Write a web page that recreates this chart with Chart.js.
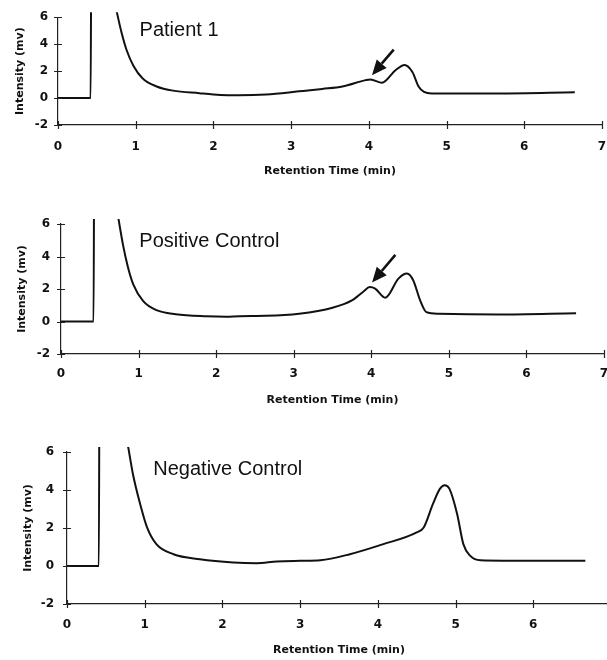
<!DOCTYPE html>
<html>
<head>
<meta charset="utf-8">
<script src="https://cdn.jsdelivr.net/npm/chart.js@4"></script>
<style>
  body { margin: 0; width: 607px; height: 660px; overflow: hidden; background: #fff; position: relative; }
  canvas { position: absolute; left: 0; }
</style>
</head>
<body>
<canvas id="chart1" width="622" height="178" style="top:0px"></canvas>
<canvas id="chart2" width="624" height="221" style="top:186px"></canvas>
<canvas id="chart3" width="631" height="247" style="top:410px"></canvas>
<script>
// Retention time (min) and intensity (mv)
// (values above 6 are off the scale, the injection spike)
const patientTime = [0, 0.42, 0.43, 0.64, 0.7, 0.76, 0.82, 0.88, 0.97, 1.09, 1.27, 1.48, 1.82, 2.0, 2.33, 2.68, 3.1, 3.4, 3.66, 3.96, 4.02, 4.17, 4.34, 4.46, 4.56, 4.64, 4.71, 4.81, 5.67, 6.65];
const patientSignal = [0, 0, 14, 14, 8.0, 6.3, 4.8, 3.6, 2.4, 1.45, 0.86, 0.55, 0.36, 0.27, 0.2, 0.26, 0.5, 0.68, 0.86, 1.33, 1.38, 1.14, 2.05, 2.45, 1.93, 0.86, 0.45, 0.34, 0.34, 0.43];

const positiveTime = [0, 0.42, 0.43, 0.62, 0.68, 0.74, 0.8, 0.86, 0.93, 1.06, 1.23, 1.48, 1.87, 2.13, 2.3, 2.64, 3.07, 3.5, 3.75, 3.9, 3.98, 4.05, 4.18, 4.35, 4.46, 4.54, 4.63, 4.71, 4.87, 5.64, 6.64];
const positiveSignal = [0, 0, 14, 14, 8.0, 6.35, 4.7, 3.4, 2.3, 1.25, 0.7, 0.45, 0.32, 0.29, 0.33, 0.35, 0.48, 0.85, 1.3, 1.85, 2.12, 2.02, 1.46, 2.64, 2.95, 2.54, 1.3, 0.58, 0.48, 0.43, 0.51];

const negativeTime = [0, 0.41, 0.42, 0.66, 0.72, 0.79, 0.85, 0.94, 1.03, 1.15, 1.37, 1.71, 2.14, 2.44, 2.7, 3.0, 3.26, 3.64, 4.07, 4.5, 4.59, 4.71, 4.8, 4.86, 4.92, 5.02, 5.1, 5.19, 5.32, 6.0, 6.67];
const negativeSignal = [0, 0, 14, 14, 7.8, 6.2, 4.8, 3.28, 2.03, 1.15, 0.62, 0.36, 0.19, 0.15, 0.24, 0.27, 0.3, 0.62, 1.15, 1.77, 2.03, 3.28, 4.07, 4.25, 4.07, 2.74, 1.15, 0.53, 0.3, 0.27, 0.27];

const yTicks = [-2, 0, 2, 4, 6];
const xTicks = [0, 1, 2, 3, 4, 5, 6, 7];

const tickFont = { family: "'DejaVu Sans', Verdana, sans-serif", size: 12, weight: "bold" };
const titleFont = { family: "'DejaVu Sans', Verdana, sans-serif", size: 11, weight: "bold" };

// tick marks crossing the axes, panel name and arrow
const decorPlugin = {
  id: "decor",
  afterDraw(chart, args, opts) {
    const ctx = chart.ctx;
    const xs = chart.scales.x;
    const ys = chart.scales.y;
    const area = chart.chartArea;
    ctx.save();
    ctx.strokeStyle = "#222";
    ctx.lineWidth = 1.2;
    ctx.beginPath();
    xs.ticks.forEach((t) => {
      const px = Math.round(xs.getPixelForValue(t.value)) + 0.5;
      ctx.moveTo(px, area.bottom - 4);
      ctx.lineTo(px, area.bottom + 4);
    });
    ys.ticks.forEach((t) => {
      const py = Math.round(ys.getPixelForValue(t.value)) + 0.5;
      ctx.moveTo(area.left - 4, py);
      ctx.lineTo(area.left + 4, py);
    });
    ctx.stroke();

    ctx.fillStyle = "#111";
    ctx.font = "20px 'Liberation Sans', Arial, sans-serif";
    ctx.textAlign = "left";
    ctx.textBaseline = "middle";
    ctx.fillText(opts.label, xs.getPixelForValue(opts.labelAt[0]), ys.getPixelForValue(opts.labelAt[1]));

    if (opts.arrow) {
      const x1 = xs.getPixelForValue(opts.arrow[0]);
      const y1 = ys.getPixelForValue(opts.arrow[1]);
      const x2 = xs.getPixelForValue(opts.arrow[2]);
      const y2 = ys.getPixelForValue(opts.arrow[3]);
      const ang = Math.atan2(y2 - y1, x2 - x1);
      const headLen = 15, headW = 6.5;
      const bx = x2 - headLen * Math.cos(ang);
      const by = y2 - headLen * Math.sin(ang);
      ctx.strokeStyle = "#111";
      ctx.lineWidth = 2.6;
      ctx.beginPath();
      ctx.moveTo(x1, y1);
      ctx.lineTo(bx, by);
      ctx.stroke();
      ctx.beginPath();
      ctx.moveTo(x2, y2);
      ctx.lineTo(bx + headW * Math.sin(ang), by - headW * Math.cos(ang));
      ctx.lineTo(bx - headW * Math.sin(ang), by + headW * Math.cos(ang));
      ctx.closePath();
      ctx.fill();
    }
    ctx.restore();
  },
};

function makeChart(id, times, signal, setup) {
  const ctx = document.getElementById(id).getContext("2d");
  const points = times.map((t, i) => ({ x: t, y: signal[i] }));

  return new Chart(ctx, {
    type: "line",
    data: {
      datasets: [
        {
          data: points,
          borderColor: "#111",
          borderWidth: 2,
          pointRadius: 0,
          cubicInterpolationMode: "monotone",
          clip: { left: 2, top: 5, right: 2, bottom: 2 },
        },
      ],
    },
    options: {
      responsive: false,
      animation: false,
      events: [],
      layout: { padding: { top: setup.padTop, right: 20, bottom: 0, left: 0 } },
      plugins: {
        legend: { display: false },
        tooltip: { enabled: false },
        decor: { label: setup.label, labelAt: setup.labelAt, arrow: setup.arrow },
      },
      scales: {
        x: {
          type: "linear",
          min: 0,
          max: 7,
          afterBuildTicks: (axis) => {
            axis.ticks = xTicks.map((v) => ({ value: v }));
          },
          afterFit: (scale) => {
            scale.height = setup.xHeight;
          },
          grid: { display: true, drawOnChartArea: false, drawTicks: false },
          border: { display: true, color: "#222", width: 1.2 },
          ticks: { color: "#111", font: tickFont, padding: setup.xPad, maxRotation: 0 },
          title: {
            display: true,
            text: "Retention Time (min)",
            color: "#111",
            font: titleFont,
            padding: { top: 0, bottom: 0 },
          },
        },
        y: {
          min: -2,
          max: 6,
          afterBuildTicks: (axis) => {
            axis.ticks = yTicks.map((v) => ({ value: v }));
          },
          afterFit: (scale) => {
            scale.width = setup.yWidth;
          },
          grid: { display: true, drawOnChartArea: false, drawTicks: false },
          border: { display: true, color: "#222", width: 1.2 },
          ticks: { color: "#111", font: tickFont, padding: setup.yPad },
          title: {
            display: true,
            text: "Intensity (mv)",
            color: "#111",
            font: titleFont,
            padding: { top: setup.yTitleX - 6.6, bottom: 0 },
          },
        },
      },
    },
    plugins: [decorPlugin],
  });
}

makeChart("chart1", patientTime, patientSignal, {
  padTop: 13, xHeight: 53, yWidth: 58, yPad: 10, xPad: 15, yTitleX: 20,
  label: "Patient 1", labelAt: [1.05, 5.0], arrow: [4.32, 3.6, 4.04, 1.7],
});
makeChart("chart2", positiveTime, positiveSignal, {
  padTop: 38, xHeight: 53, yWidth: 61, yPad: 11, xPad: 13, yTitleX: 22,
  label: "Positive Control", labelAt: [1.01, 4.95], arrow: [4.31, 4.1, 4.01, 2.4],
});
makeChart("chart3", negativeTime, negativeSignal, {
  padTop: 42, xHeight: 53, yWidth: 67, yPad: 13, xPad: 14, yTitleX: 28,
  label: "Negative Control", labelAt: [1.11, 5.1], arrow: null,
});
</script>
</body>
</html>
